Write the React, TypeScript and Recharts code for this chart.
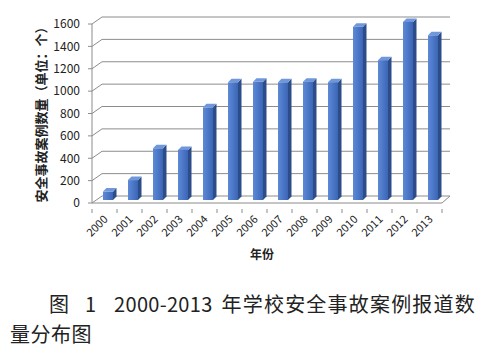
import React from 'react';
import { BarChart, Bar, XAxis, YAxis, CartesianGrid, Label } from 'recharts';

const years = ['2000', '2001', '2002', '2003', '2004', '2005', '2006', '2007', '2008', '2009', '2010', '2011', '2012', '2013'];
const caseCounts = [75, 178, 462, 448, 828, 1052, 1056, 1052, 1058, 1053, 1548, 1250, 1592, 1472];
const yTicks = [0, 200, 400, 600, 800, 1000, 1200, 1400, 1600];

const data = years.map((year, i) => ({ year, count: caseCounts[i] }));

const FONT = '"Noto Sans CJK SC", "DejaVu Sans", sans-serif';
const GRID = '#8c8c8c';

// fake 3D: back wall lines offset up/right from the front plane
const WALL_DX = 10;
const WALL_DY = -7;

const GridLine = (p: any) => {
  const isFloor = p.index === 0;
  let d = `M${p.x1},${p.y1} L${p.x1 + WALL_DX},${p.y1 + WALL_DY} L${p.x2 + WALL_DX - 2},${p.y1 + WALL_DY}`;
  if (isFloor) d += ` L${p.x2},${p.y1}`;
  return <path key={p.key} d={d} stroke={GRID} strokeWidth={1} fill="none" />;
};

const Bar3D = (props: any) => {
  const { x, y, width, height } = props;
  if (!height || height <= 0) return null;
  const fx = x + 3;
  const fy = y - 3;
  const fb = y + height - 3;
  const w = width;
  const d = 3.5;
  return (
    <g>
      <polygon points={`${fx + w},${fy} ${fx + w + d},${fy - d} ${fx + w + d},${fb - d} ${fx + w},${fb}`} fill="#2c4c8a" />
      <polygon points={`${fx},${fy} ${fx + d},${fy - d} ${fx + w + d},${fy - d} ${fx + w},${fy}`} fill="#6f97dc" />
      <rect x={fx} y={fy} width={w} height={fb - fy} fill="url(#barFront)" />
    </g>
  );
};

const YearTick = (props: any) => {
  const { x, y, payload, index, visibleTicksCount } = props;
  const half = 12.5;
  const base = y - 2;
  return (
    <g>
      <line x1={x - half} y1={base} x2={x - half} y2={base + 4} stroke={GRID} />
      {index === visibleTicksCount - 1 && (
        <line x1={x + half} y1={base} x2={x + half} y2={base + 4} stroke={GRID} />
      )}
      <text
        x={x + 4}
        y={base + 11}
        transform={`rotate(-45 ${x + 4} ${base + 11})`}
        textAnchor="end"
        fontSize={11}
        fontFamily={FONT}
        fill="#222"
      >
        {payload.value}
      </text>
    </g>
  );
};

const captionStyle: React.CSSProperties = {
  position: 'absolute',
  fontFamily: FONT,
  fontSize: 20,
  color: '#222',
  lineHeight: '26px',
  whiteSpace: 'nowrap',
};

export default function App() {
  return (
    <div style={{ position: 'absolute', left: 0, top: 0, width: 479, height: 353, background: '#fff' }}>
      <BarChart
        width={479}
        height={270}
        data={data}
        margin={{ top: 24, right: 37, left: 0, bottom: 0 }}
        barCategoryGap={0}
      >
        <defs>
          <linearGradient id="barFront" x1="0" y1="0" x2="1" y2="0">
            <stop offset="0%" stopColor="#5d89d6" />
            <stop offset="60%" stopColor="#4874c4" />
            <stop offset="100%" stopColor="#3c66b4" />
          </linearGradient>
        </defs>
        <CartesianGrid horizontal={GridLine} vertical={false} />
        <XAxis
          dataKey="year"
          height={67}
          axisLine={{ stroke: GRID }}
          tickLine={false}
          interval={0}
          tick={<YearTick />}
        >
          <Label
            content={(p: any) => (
              <text
                x={p.viewBox.x + p.viewBox.width / 2 - 5}
                y={p.viewBox.y + 56}
                textAnchor="middle"
                fontSize={12}
                fontWeight="bold"
                fontFamily={FONT}
                fill="#222"
              >
                年份
              </text>
            )}
          />
        </XAxis>
        <YAxis
          width={92}
          domain={[0, 1600]}
          ticks={yTicks}
          interval={0}
          axisLine={{ stroke: GRID }}
          tickLine={{ stroke: GRID }}
          tickSize={4}
          tickMargin={8}
          tick={{ fontSize: 12, fill: '#222', fontFamily: FONT }}
        >
          <Label
            content={(p: any) => {
              const cx = 40;
              const cy = p.viewBox.y + p.viewBox.height / 2 - 2;
              return (
                <text
                  x={cx}
                  y={cy}
                  transform={`rotate(-90 ${cx} ${cy})`}
                  textAnchor="middle"
                  dominantBaseline="central"
                  fontSize={13}
                  fontWeight="bold"
                  fontFamily={FONT}
                  fill="#222"
                >
                  安全事故案例数量（单位：个）
                </text>
              );
            }}
          />
        </YAxis>
        <Bar dataKey="count" barSize={10} shape={<Bar3D />} isAnimationActive={false} />
      </BarChart>
      <div style={{ ...captionStyle, left: 49, top: 291 }}>
        <span>图</span>
        <span style={{ marginLeft: 16 }}>1</span>
        <span style={{ marginLeft: 18, letterSpacing: 0.3 }}>2000-2013</span>
        <span style={{ marginLeft: 9, letterSpacing: 1.2 }}>年学校安全事故案例报道数</span>
      </div>
      <div style={{ ...captionStyle, left: 10, top: 321, letterSpacing: 0.5 }}>量分布图</div>
    </div>
  );
}
